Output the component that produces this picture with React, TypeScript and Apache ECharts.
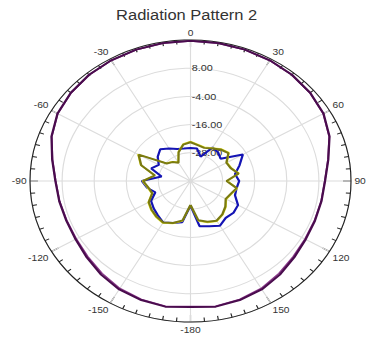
import React, { useEffect, useRef } from "react";
import * as echarts from "echarts";

// Angles in degrees, clockwise from top (0), range -180..170
const angles = [
  -180, -170, -160, -150, -140, -130, -120, -110, -100, -90, -80, -70, -60, -50, -40, -30, -20, -10,
  0, 10, 20, 30, 40, 50, 60, 70, 80, 90, 100, 110, 120, 130, 140, 150, 160, 170,
];

const purpleA = [
  13.6, 14.3, 13.9, 13.3, 12.0, 10.6, 9.6, 9.4, 9.8, 10.5, 12.5, 15.3, 17.4, 18.4, 19.0, 19.3, 19.5, 19.6,
  19.7, 19.6, 19.5, 19.3, 19.0, 18.4, 17.4, 15.3, 12.3, 10.3, 9.7, 9.5, 9.7, 10.6, 12.0, 13.3, 13.9, 14.3,
];

const purpleB = [
  13.4, 14.1, 13.6, 12.8, 11.4, 10.1, 9.3, 9.2, 9.7, 10.4, 12.4, 15.2, 17.3, 18.3, 18.9, 19.2, 19.4, 19.5,
  19.6, 19.5, 19.4, 19.2, 18.9, 18.3, 17.3, 15.2, 12.2, 10.2, 9.6, 9.3, 9.4, 10.1, 11.4, 12.8, 13.6, 14.1,
];

const blue = [
  -29.5, -22.2, -21.0, -19.6, -21.0, -22.0, -23.0, -26.0, -23.5, -21.8, -29.0, -24.4, -26.3, -24.0, -22.4, -24.0, -25.5, -26.0,
  -26.0, -26.0, -29.0, -23.5, -24.0, -25.3, -17.4, -20.5, -23.1, -21.8, -22.5, -22.3, -19.5, -19.0, -19.5, -18.0, -19.5, -20.5,
];

const olive = [
  -29.8, -23.0, -21.0, -19.6, -20.2, -21.0, -22.0, -24.8, -24.0, -22.3, -26.5, -20.4, -17.6, -28.4, -29.5, -31.0, -27.0, -24.3,
  -23.5, -24.5, -25.0, -24.0, -22.5, -21.5, -24.5, -24.0, -21.8, -26.5, -22.5, -24.0, -24.8, -23.0, -21.5, -20.5, -21.5, -23.0,
];

const yellow = [
  -29.5, -22.6, -20.6, -19.2, -19.8, -20.6, -21.6, -24.4, -23.6, -21.9, -26.1, -20.0, -17.2, -28.0, -29.1, -30.6, -26.6, -23.9,
  -23.1, -24.1, -24.6, -23.6, -22.1, -21.1, -24.1, -23.6, -21.4, -26.1, -22.1, -23.6, -24.4, -22.6, -21.1, -20.1, -21.1, -22.6,
];

const radiusTicks = { min: -40, max: 20, interval: 12 };
const titleText = "Radiation Pattern 2";

const K = 160.5 / 141;
const W = 367 / K;

function toSeriesData(vals: number[]) {
  const pts = vals.map((v, i) => {
    const a = angles[i];
    return [v, a < 0 ? a + 360 : a];
  });
  pts.push(pts[0]);
  return pts;
}

export default function App() {
  const ref = useRef<HTMLDivElement>(null);
  useEffect(() => {
    if (!ref.current) return;
    const chart = echarts.init(ref.current, undefined, { renderer: "svg" });
    const font = "'Liberation Sans', Arial, sans-serif";
    const mk = (name: string, vals: number[], color: string, width: number, z: number) => ({
      name,
      type: "line",
      coordinateSystem: "polar",
      data: toSeriesData(vals),
      showSymbol: false,
      symbol: "none",
      lineStyle: { color, width },
      z,
    });
    chart.setOption({
      animation: false,
      backgroundColor: "#ffffff",
      title: {
        text: titleText,
        left: 159,
        textAlign: "center",
        top: 2,
        textStyle: { fontFamily: font, fontSize: 14.5, fontWeight: "normal", color: "#333" },
      },
      polar: { center: [190.5 / K, 181], radius: 141 },
      angleAxis: {
        type: "value",
        min: 0,
        max: 360,
        interval: 30,
        startAngle: 90,
        clockwise: true,
        axisLine: { show: true, lineStyle: { color: "#222", width: 1 } },
        axisTick: { show: true, inside: true, length: 7, lineStyle: { color: "#222", width: 1 } },
        minorTick: { show: true, splitNumber: 6, length: 4, lineStyle: { color: "#222", width: 1 } },
        axisLabel: {
          margin: 3,
          fontFamily: font,
          fontSize: 9,
          color: "#333",
          formatter: (v: number) => String(v >= 180 ? v - 360 : v),
        },
        splitLine: { show: true, lineStyle: { color: "#dcdcdc", width: 1 } },
      },
      radiusAxis: {
        type: "value",
        min: radiusTicks.min,
        max: radiusTicks.max,
        interval: radiusTicks.interval,
        axisLine: { show: false },
        axisTick: { show: false },
        axisLabel: {
          fontFamily: font,
          fontSize: 9.5,
          color: "#333",
          align: "left",
          verticalAlign: "middle",
          margin: -1,
          formatter: (v: number) => (v === radiusTicks.min || v === radiusTicks.max ? "" : v.toFixed(2)),
        },
        splitLine: { show: true, lineStyle: { color: "#dcdcdc", width: 1 } },
      },
      series: [
        mk("P1b", purpleB, "#8a3a8a", 1.5, 2),
        mk("P1", purpleA, "#4a0c4e", 2, 3),
        mk("Blue", blue, "#1414b4", 2, 4),
        mk("Yellow", yellow, "#e8e830", 1, 4),
        mk("Olive", olive, "#7a7a10", 2, 5),
      ],
    });
    return () => chart.dispose();
  }, []);
  return (
    <div
      style={{
        position: "fixed",
        left: 0,
        top: 0,
        width: 367,
        height: 339,
        overflow: "hidden",
        background: "#fff",
      }}
    >
      <div
        ref={ref}
        style={{ width: W, height: 339, transform: `scaleX(${K})`, transformOrigin: "0 0" }}
      />
    </div>
  );
}
